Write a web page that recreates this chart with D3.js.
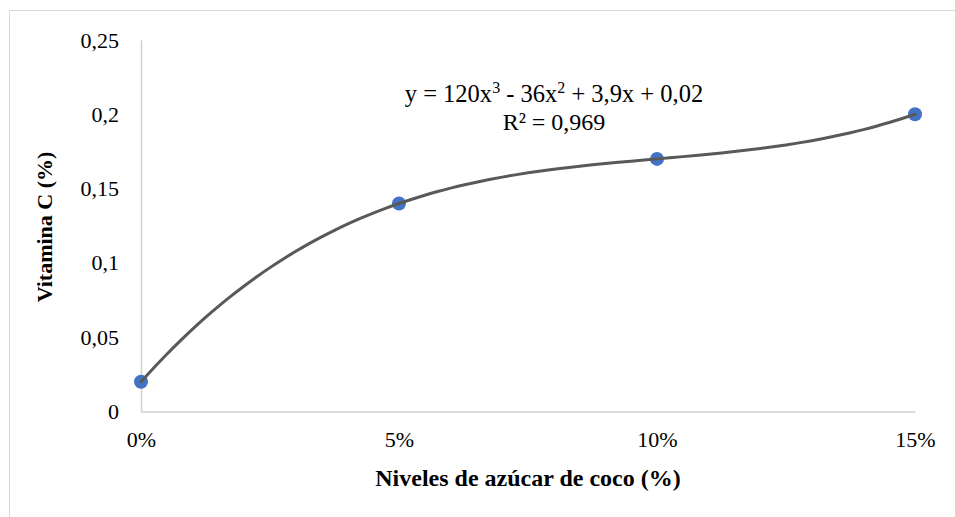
<!DOCTYPE html>
<html><head><meta charset="utf-8">
<script src="https://cdn.jsdelivr.net/npm/d3@7"></script>
<style>body{margin:0;background:#fff}svg{display:block}svg text{font-family:'Liberation Serif','Times New Roman',serif;fill:#000}</style>
</head><body><svg id="c" width="955" height="517"></svg>
<script>
const categories = [0, 0.05, 0.10, 0.15];
const vitaminC = [0.02, 0.14, 0.17, 0.20];
const yTicks = [0, 0.05, 0.1, 0.15, 0.2, 0.25];
const trendCoefs = [0.02, 3.9, -36, 120]; // c0 + c1 x + c2 x^2 + c3 x^3, from the chart's equation
const svg = d3.select("#c");
svg.append("rect").attr("x",9.5).attr("y",10.5).attr("width",960).attr("height",520)
  .attr("fill","#fff").attr("stroke","#d9d9d9").attr("stroke-width",1);
const x = d3.scaleLinear().domain([0,0.15]).range([141,915]);
const y = d3.scaleLinear().domain([0,0.25]).range([411.5,40]);
const fmtY = d => d3.format(".2~f")(d).replace(".",",");
const fmtX = d => d3.format(".0%")(d);
const gy = svg.append("g").attr("transform","translate(141,0)")
  .call(d3.axisLeft(y).tickValues(yTicks).tickSize(0).tickPadding(22).tickFormat(fmtY));
gy.attr("font-family",null);
gy.select(".domain").attr("stroke","#d0d0d0").attr("stroke-width",1.5);
gy.selectAll("text").attr("font-size",22);
const gx = svg.append("g").attr("transform","translate(0,411.5)")
  .call(d3.axisBottom(x).tickValues(categories).tickSize(0).tickPadding(20).tickFormat(fmtX));
gx.attr("font-family",null);
gx.select(".domain").attr("stroke","#d0d0d0").attr("stroke-width",1.5);
gx.selectAll("text").attr("font-size",22);
// markers
svg.append("g").selectAll("circle").data(categories).join("circle")
  .attr("cx",d=>x(d)).attr("cy",(d,i)=>y(vitaminC[i])).attr("r",7).attr("fill","#4472C4");
// trendline
const poly = t => trendCoefs.reduce((s,c,k)=>s+c*Math.pow(t,k),0);
const xs = d3.range(0,0.15001,0.0025);
svg.append("path").datum(xs)
  .attr("d", d3.line().x(t=>x(t)).y(t=>y(poly(t))).curve(d3.curveBasis))
  .attr("fill","none").attr("stroke","#595959").attr("stroke-width",3).attr("stroke-linecap","round");
// equation
const eq = svg.append("text").attr("x",554).attr("y",102).attr("text-anchor","middle").attr("font-size",24.5);
eq.append("tspan").text("y = 120x");
eq.append("tspan").text("3").attr("font-size",16).attr("dy",-9);
eq.append("tspan").text(" - 36x").attr("dy",9);
eq.append("tspan").text("2").attr("font-size",16).attr("dy",-9);
eq.append("tspan").text(" + 3,9x + 0,02").attr("dy",9);
svg.append("text").attr("x",554).attr("y",130).attr("text-anchor","middle").attr("font-size",24).text("R² = 0,969");
// axis titles
svg.append("text").attr("x",528).attr("y",486).attr("text-anchor","middle").attr("font-size",24)
  .attr("font-weight","bold").text("Niveles de azúcar de coco (%)");
svg.append("text").attr("transform","translate(52,227) rotate(-90)").attr("text-anchor","middle")
  .attr("font-size",22).attr("font-weight","bold").text("Vitamina C (%)");
</script></body></html>
